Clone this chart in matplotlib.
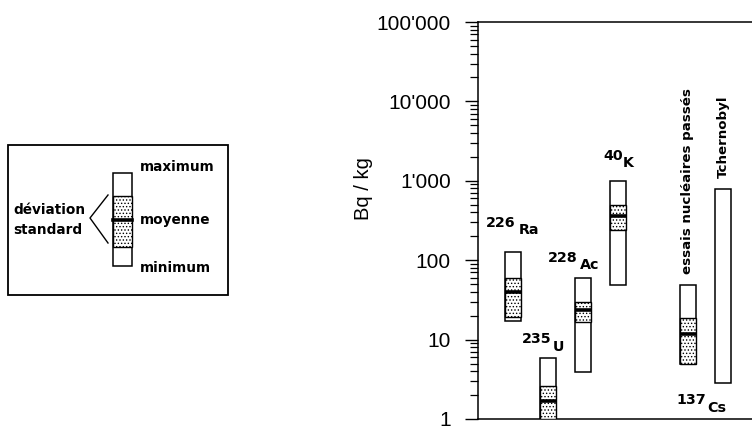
import matplotlib
matplotlib.use("Agg")
import matplotlib.pyplot as plt
from matplotlib.patches import Rectangle
from matplotlib.lines import Line2D
from matplotlib.ticker import FixedLocator, FixedFormatter, LogLocator, NullFormatter
from matplotlib.transforms import offset_copy

plt.rcParams['hatch.linewidth'] = 0.6

# Activity ranges (Bq/kg) per radionuclide
positions = [1, 2, 3, 4, 6, 7]
max_vals = [128, 5.8, 60, 980, 49, 790]
min_vals = [17, 1.0, 3.9, 49, 4.9, 2.8]
sd_high = [60, 2.6, 29.5, 500, 18.5]
sd_low = [19.5, 1.0, 16.8, 240, 4.9]
means = [40, 1.7, 23.5, 360, 11.8]

ytick_vals = [1, 10, 100, 1000, 10000, 100000]
ytick_labels = ["1", "10", "100", "1'000", "10'000", "100'000"]

BOLD = dict(family="DejaVu Sans", fontweight="bold", color="black")
W = 0.43

fig = plt.figure(figsize=(7.52, 4.30), dpi=100)
ax = fig.add_axes([478 / 752, 1 - 419 / 430, 274 / 752, 397 / 430])
ax.set_yscale("log")
ax.set_ylim(1, 1e5)
ax.set_xlim(0, 274 / 35)

# outer range boxes (min..max)
ax.bar(positions, [hi - lo for hi, lo in zip(max_vals, min_vals)], bottom=min_vals,
       width=W, facecolor="white", edgecolor="black", linewidth=1.1, zorder=2)
# standard deviation (stippled)
n = len(sd_high)
ax.bar(positions[:n], [hi - lo for hi, lo in zip(sd_high, sd_low)], bottom=sd_low,
       width=W, facecolor="white", edgecolor="black", linewidth=1.0, hatch=".....",
       zorder=3)
# mean
ax.hlines(means, [p - W / 2 for p in positions[:n]], [p + W / 2 for p in positions[:n]],
          colors="black", linewidth=2.6, zorder=4)

# axes styling
ax.spines["right"].set_visible(False)
for side in ("left", "top", "bottom"):
    ax.spines[side].set_linewidth(1.1)
ax.set_xticks([])
ax.yaxis.set_major_locator(FixedLocator(ytick_vals))
ax.yaxis.set_major_formatter(FixedFormatter(ytick_labels))
ax.yaxis.set_minor_locator(LogLocator(base=10, subs=range(2, 10)))
ax.yaxis.set_minor_formatter(NullFormatter())
ax.tick_params(axis="y", which="major", length=9.5, width=1.0, pad=10,
               labelsize=15)
ax.tick_params(axis="y", which="minor", length=6, width=0.9)
for lbl in ax.get_yticklabels():
    lbl.set_family("Liberation Sans")
ax.set_ylabel("Bq / kg", family="Liberation Sans", fontsize=14.5)
ax.yaxis.set_label_coords(-0.385, 0.58)


def label(x, y, dx, dy, text, size=10.3):
    tr = offset_copy(ax.transData, fig=fig, x=dx, y=-dy, units="dots")
    ax.text(x, y, text, transform=tr, ha="center", va="center", fontsize=size,
            clip_on=False, **BOLD)


# isotope names: mass number raised, element symbol lowered
label(positions[0], max_vals[0], -12.5, -29, "226")
label(positions[0], max_vals[0], 15.5, -22, "Ra")
label(positions[1], max_vals[1], -11, -19, "235")
label(positions[1], max_vals[1], 10.5, -11, "U")
label(positions[2], max_vals[2], -20, -20, "228")
label(positions[2], max_vals[2], 6.5, -13, "Ac")
label(positions[3], max_vals[3], -4.5, -25, "40")
label(positions[3], max_vals[3], 10, -18, "K")
cs_x = (positions[4] + positions[5]) / 2
label(cs_x, 1, -14, -19, "137")
label(cs_x, 1, 11.5, -11, "Cs")

for p, top, txt in [(positions[4], max_vals[4], "essais nucléaires passés"),
                    (positions[5], max_vals[5], "Tchernobyl")]:
    tr = offset_copy(ax.transData, fig=fig, x=0, y=11, units="dots")
    ax.text(p, top, txt, transform=tr, rotation=90, ha="center", va="bottom",
            fontsize=9.6, clip_on=False, **BOLD)

# key panel (pixel layout)
lax = fig.add_axes([0, 0, 1, 1], zorder=-1)
lax.set_xlim(0, 752)
lax.set_ylim(430, 0)
lax.axis("off")
lax.add_patch(Rectangle((8, 145), 220, 150, fill=False, edgecolor="black", linewidth=1.3))
lax.add_patch(Rectangle((113, 173), 19, 93, facecolor="white", edgecolor="black", linewidth=1.1))
lax.add_patch(Rectangle((113, 196), 19, 51, facecolor="white", edgecolor="black",
                        linewidth=1.0, hatch="....."))
lax.add_line(Line2D([113, 132], [220, 220], color="black", linewidth=2.6))
lax.add_line(Line2D([108, 90, 108], [195, 218, 243], color="black", linewidth=1.0))
lax.text(140, 167, "maximum", ha="left", va="center", fontsize=9.8, **BOLD)
lax.text(140, 220, "moyenne", ha="left", va="center", fontsize=9.8, **BOLD)
lax.text(140, 268, "minimum", ha="left", va="center", fontsize=9.8, **BOLD)
lax.text(13, 210, "déviation", ha="left", va="center", fontsize=9.8, **BOLD)
lax.text(13, 230, "standard", ha="left", va="center", fontsize=9.8, **BOLD)

fig.savefig("out.png", dpi=100)
